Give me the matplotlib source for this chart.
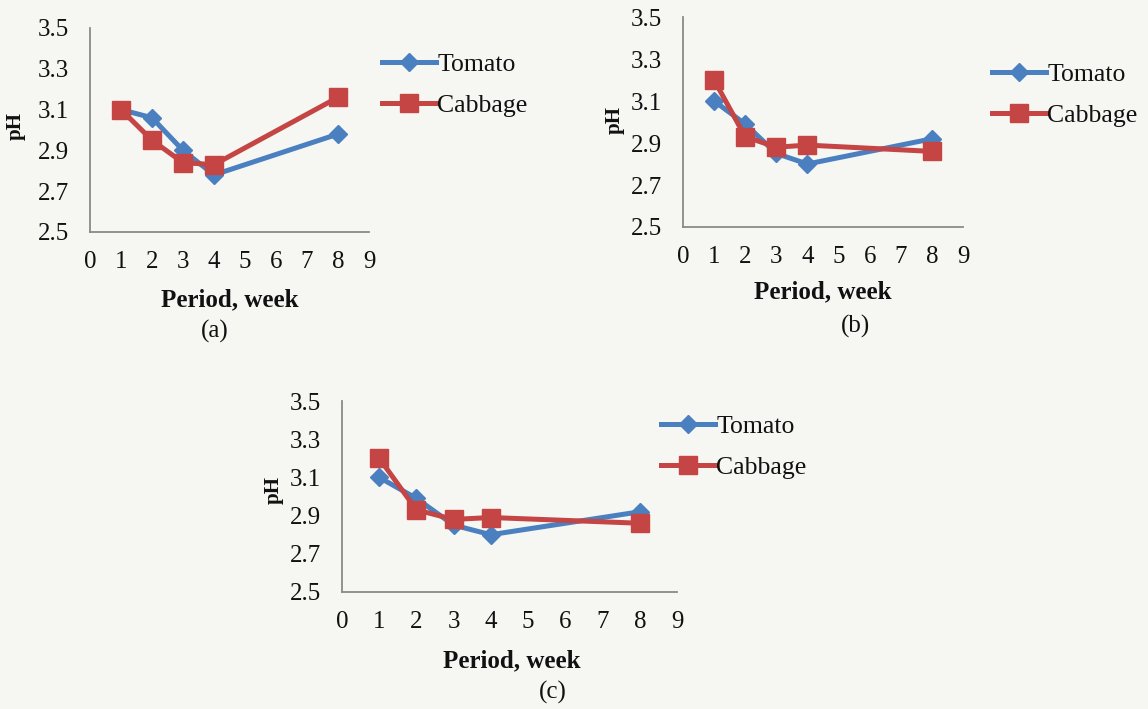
import matplotlib
matplotlib.use("Agg")
import matplotlib.pyplot as plt

weeks = [1, 2, 3, 4, 8]
tomato_a = [3.10, 3.06, 2.90, 2.78, 2.98]
cabbage_a = [3.10, 2.95, 2.84, 2.83, 3.16]
tomato_b = [3.10, 2.99, 2.85, 2.80, 2.92]
cabbage_b = [3.20, 2.93, 2.88, 2.89, 2.86]
tomato_c = [3.10, 2.99, 2.85, 2.80, 2.92]
cabbage_c = [3.20, 2.93, 2.88, 2.89, 2.86]
series_names = ["Tomato", "Cabbage"]
panel_labels = ["(a)", "(b)", "(c)"]
xticks = list(range(0, 10))
yticks = [2.5, 2.7, 2.9, 3.1, 3.3, 3.5]

W, H = 1148, 709
BG = "#f6f6f3"
BLUE = "#4a7fc0"
RED = "#c44543"
INK = "#111111"
SERIF = ["Liberation Serif", "DejaVu Serif"]

fig = plt.figure(figsize=(W / 100, H / 100), dpi=100, facecolor=BG)

def px_axes(left, right, top, bottom):
    return fig.add_axes([left / W, 1 - bottom / H, (right - left) / W, (bottom - top) / H])

panels = [
    dict(box=(90, 369, 28, 232), t=tomato_a, c=cabbage_a, leg=(382, 53),
         ph=(16, 126), xl=(230, 300), pl=(215, 331)),
    dict(box=(683, 963, 17, 227), t=tomato_b, c=cabbage_b, leg=(992, 63),
         ph=(615, 120), xl=(823, 292), pl=(855, 326)),
    dict(box=(342, 677, 401, 592), t=tomato_c, c=cabbage_c, leg=(661, 415),
         ph=(274, 490), xl=(512, 661), pl=(553, 692)),
]

for p, lab in zip(panels, panel_labels):
    ax = px_axes(*p["box"])
    ax.set_facecolor("none")
    ax.plot(weeks, p["t"], color=BLUE, lw=3.6, marker="D", ms=9.5,
            label=series_names[0], zorder=3)
    ax.plot(weeks, p["c"], color=RED, lw=3.6, marker="s", ms=12.5,
            label=series_names[1], zorder=4)
    ax.set_xlim(0, 9)
    ax.set_ylim(2.5, 3.5)
    ax.set_xticks(xticks)
    ax.set_yticks(yticks)
    ax.set_yticklabels([f"{v:.1f}" for v in yticks])
    for s in ["top", "right"]:
        ax.spines[s].set_visible(False)
    for s in ["left", "bottom"]:
        ax.spines[s].set_color("#8a8a8a")
        ax.spines[s].set_linewidth(1.3)
    ax.tick_params(axis="both", length=0, labelsize=18, colors=INK)
    ax.tick_params(axis="x", pad=14)
    ax.tick_params(axis="y", pad=15)
    for t in ax.get_xticklabels() + ax.get_yticklabels():
        t.set_family(SERIF)
    leg = ax.legend(loc="upper left", bbox_to_anchor=(p["leg"][0] / W, 1 - p["leg"][1] / H),
                    bbox_transform=fig.transFigure, frameon=False, borderpad=0,
                    borderaxespad=0, handlelength=2.1, handletextpad=0.05,
                    labelspacing=0.72, prop={"family": SERIF, "size": 18.5})
    for t in leg.get_texts():
        t.set_color(INK)
    fig.text(p["ph"][0] / W, 1 - p["ph"][1] / H, "pH", rotation=90, ha="center",
             va="center", family=SERIF, weight="bold", fontsize=15, color=INK)
    fig.text(p["xl"][0] / W, 1 - p["xl"][1] / H, "Period, week", ha="center",
             va="center", family=SERIF, weight="bold", fontsize=18, color=INK)
    fig.text(p["pl"][0] / W, 1 - p["pl"][1] / H, lab, ha="center",
             va="center", family=SERIF, fontsize=18, color=INK)

fig.savefig("out.png", dpi=100, facecolor=BG)
